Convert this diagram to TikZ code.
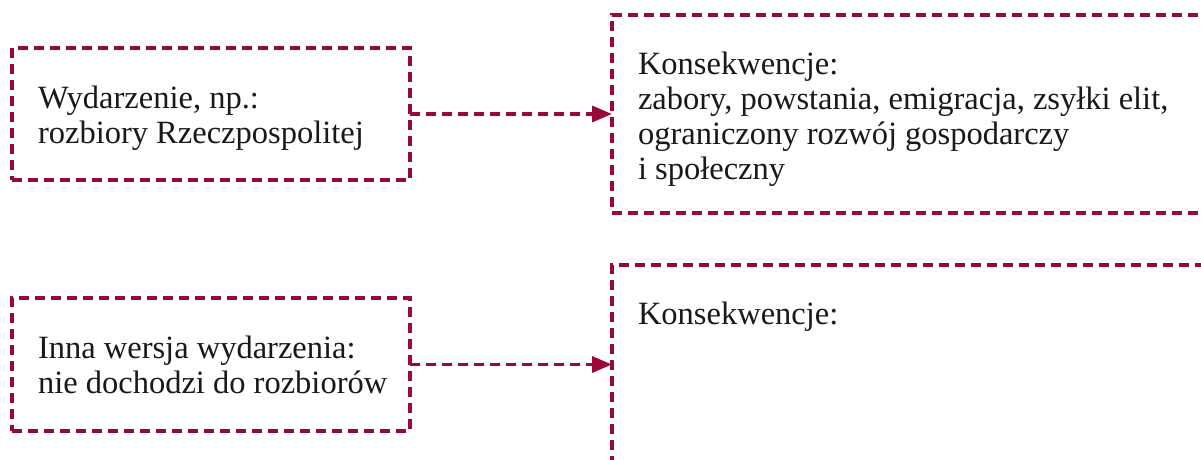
\documentclass[tikz,border=0pt]{standalone}
\usepackage{fontspec}
\setmainfont{Liberation Serif}
\usetikzlibrary{arrows.meta}
\definecolor{crim}{RGB}{152,8,58}
\begin{document}
\begin{tikzpicture}[x=1pt,y=-1pt,
  dbox/.style={draw=crim, line width=3.3pt, dash pattern=on 10pt off 6pt,
    rectangle, inner sep=0pt, outer sep=0pt},
  conn/.style={draw=crim, line width=3.3pt, dash pattern=on 10pt off 6pt,
    -{Triangle[length=20pt,width=16pt]}},
  txt/.style={anchor=north west, inner sep=0pt, outer sep=0pt, align=left,
    font=\fontsize{32.5}{35}\selectfont, text=black!90}]
\clip (0,0) rectangle (1201,459);
\fill[white] (0,0) rectangle (1201,459);
\node[dbox, minimum width=398pt, minimum height=132pt] (boxA) at (211,114) {};
\node[dbox, minimum width=618pt, minimum height=198pt] (boxB) at (921,114) {};
\node[dbox, minimum width=398pt, minimum height=133pt] (boxC) at (211,364.5) {};
\node[dbox, minimum width=618pt, minimum height=205pt] (boxD) at (921,367.5) {};
\node[txt] (tA) at (38,84) {\strut Wydarzenie, np.:\\\strut rozbiory Rzeczpospolitej};
\node[txt] (tB) at (638,49.5) {\strut Konsekwencje:\\\strut zabory, powstania, emigracja, zsyłki elit,\\\strut ograniczony rozwój gospodarczy\\\strut i społeczny};
\node[txt] (tC) at (38,334) {\strut Inna wersja wydarzenia:\\\strut nie dochodzi do rozbiorów};
\node[txt] (tD) at (638,299.5) {\strut Konsekwencje:};
\draw[conn] (boxA.east) -- (boxB.west);
\draw[conn] (boxC.east) -- (boxD.west |- boxC.east);
\end{tikzpicture}
\end{document}
